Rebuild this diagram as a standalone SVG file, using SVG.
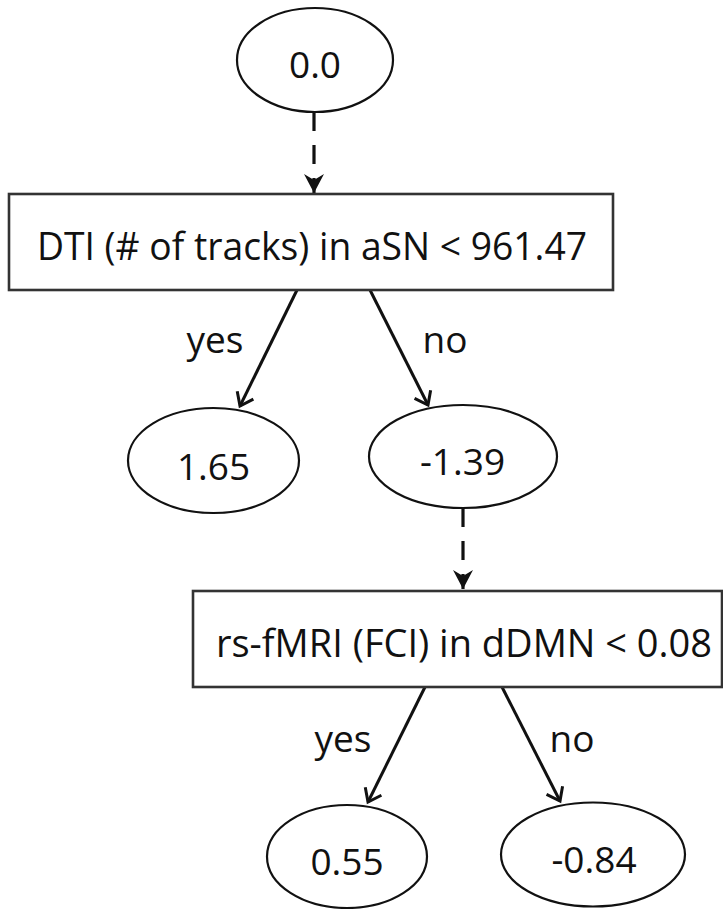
<svg xmlns="http://www.w3.org/2000/svg" width="723" height="909" viewBox="0 0 723 909">
<style>
.node ellipse{fill:#fff;stroke:#111;stroke-width:2.2}
.node rect{fill:#fff;stroke:#333;stroke-width:2.6}
.val{font-family:"Open Sans","Liberation Sans",sans-serif;font-size:37px;fill:#111;text-anchor:middle}
.cond{font-family:"Open Sans","Liberation Sans",sans-serif;font-size:38px;fill:#111;text-anchor:middle}
.lbl{font-family:"Open Sans","Liberation Sans",sans-serif;font-size:37px;fill:#111;text-anchor:middle}
.solid{stroke:#111;stroke-width:3;fill:none;marker-end:url(#open)}
.dash{stroke:#111;stroke-width:3.2;fill:none;stroke-dasharray:19 14;marker-end:url(#notch)}
</style>
<defs>
<marker id="open" markerUnits="userSpaceOnUse" viewBox="-14 -12 16 24" refX="0" refY="0" markerWidth="16" markerHeight="24" orient="auto" overflow="visible">
<path d="M-12,-9 L0,0 L-12,9" fill="none" stroke="#111" stroke-width="3" stroke-linejoin="miter"/>
</marker>
<marker id="notch" markerUnits="userSpaceOnUse" viewBox="-20 -11 21 22" refX="0" refY="0" markerWidth="21" markerHeight="22" orient="auto" overflow="visible">
<path d="M0,0 L-19,-10 L-13,0 L-19,10 Z" fill="#111"/>
</marker>
</defs>
<g id="connectors">
<line class="dash" x1="314" y1="112" x2="314" y2="193"/>
<line class="solid" x1="297" y1="290" x2="240" y2="406"/>
<line class="solid" x1="370" y1="290" x2="428" y2="405"/>
<line class="dash" x1="463" y1="508" x2="463" y2="589"/>
<line class="solid" x1="425" y1="687" x2="368" y2="802"/>
<line class="solid" x1="502" y1="687" x2="560" y2="801"/>
<text class="lbl" x="215" y="353">yes</text>
<text class="lbl" x="445" y="353">no</text>
<text class="lbl" x="343" y="752">yes</text>
<text class="lbl" x="572" y="752">no</text>
</g>
<g id="n-root" class="node">
<ellipse cx="315" cy="60" rx="78" ry="52"/>
<text class="val" x="315" y="78">0.0</text>
</g>
<g id="n-dti" class="node">
<rect x="9" y="194" width="604" height="96"/>
<text class="cond" x="312" y="260" textLength="550" lengthAdjust="spacingAndGlyphs">DTI (# of tracks) in aSN &lt; 961.47</text>
</g>
<g id="n-165" class="node">
<ellipse cx="213.5" cy="460.5" rx="85.5" ry="52.5"/>
<text class="val" x="213.5" y="480">1.65</text>
</g>
<g id="n-139" class="node">
<ellipse cx="463" cy="456.5" rx="94" ry="51.5"/>
<text class="val" x="462.5" y="475">-1.39</text>
</g>
<g id="n-fmri" class="node">
<rect x="193" y="591" width="529" height="96"/>
<text class="cond" x="464" y="657" textLength="496" lengthAdjust="spacingAndGlyphs">rs-fMRI (FCI) in dDMN &lt; 0.08</text>
</g>
<g id="n-055" class="node">
<ellipse cx="347" cy="856.5" rx="80" ry="51.5"/>
<text class="val" x="347" y="875">0.55</text>
</g>
<g id="n-084" class="node">
<ellipse cx="593" cy="854.5" rx="92" ry="52"/>
<text class="val" x="594" y="873">-0.84</text>
</g>
</svg>
